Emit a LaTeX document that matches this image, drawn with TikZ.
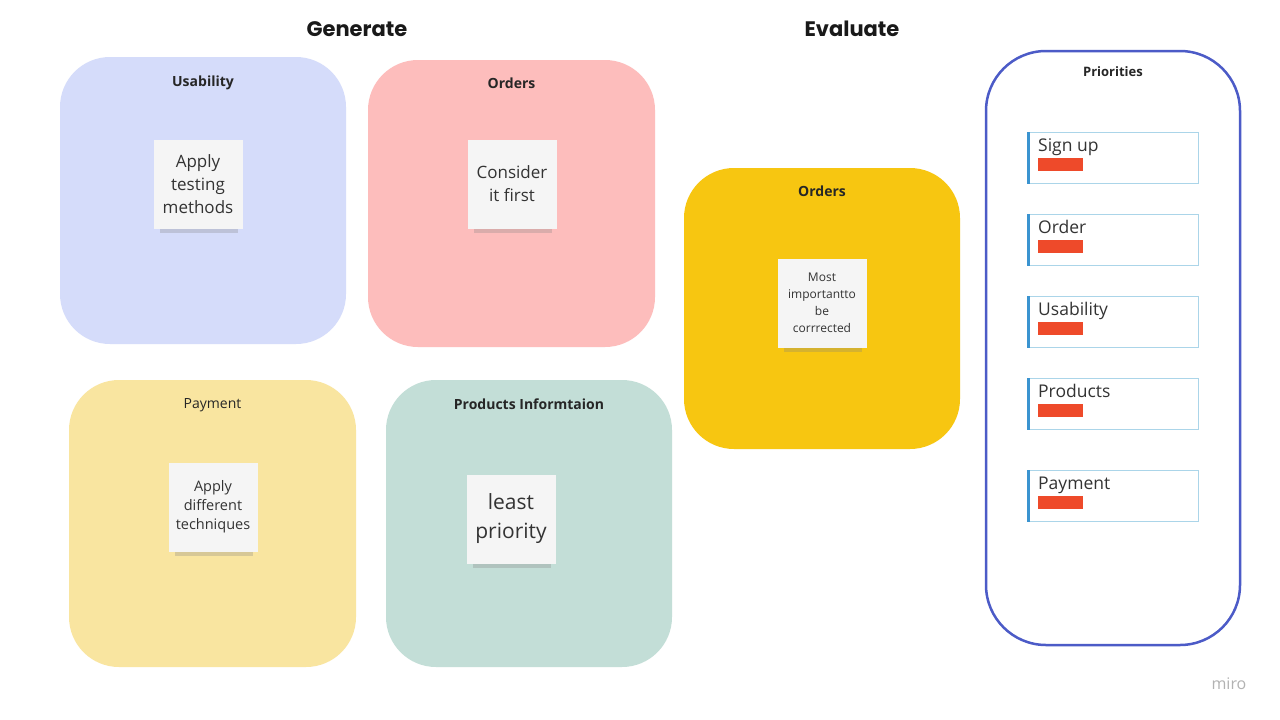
\documentclass[tikz,border=0pt]{standalone}
\usepackage{fontspec}
\setmainfont{Open Sans}
\newfontfamily\headfont{Poppins}
\usepackage{tikz}
\usetikzlibrary{positioning,shadows}
\definecolor{usabfill}{HTML}{D5DCFA}
\definecolor{ordfill}{HTML}{FDBDBC}
\definecolor{payfill}{HTML}{F9E5A0}
\definecolor{prodfill}{HTML}{C3DED7}
\definecolor{evalfill}{HTML}{F7C611}
\definecolor{prioline}{HTML}{4C5BC7}
\definecolor{cardline}{HTML}{ABD5E9}
\definecolor{cardstripe}{HTML}{3B94D0}
\definecolor{barred}{HTML}{EE4A2A}
\definecolor{notefill}{HTML}{F5F5F5}
\definecolor{inktext}{HTML}{333333}

\begin{document}
\begin{tikzpicture}[x=1pt,y=-1pt,
  board/.style={rounded corners=50pt,inner sep=0pt},
  boxtitle/.style={font=\fontsize{14}{16}\selectfont\bfseries,text=black!85,inner sep=0pt},
  sticky/.style={fill=notefill,minimum width=89pt,minimum height=89pt,inner sep=2pt,
    align=center,text=inktext,
    drop shadow={opacity=0.28,shadow xshift=1pt,shadow yshift=-11pt,shadow scale=0.88}},
  card/.style={draw=cardline,line width=0.8pt,fill=white,minimum width=170pt,minimum height=51pt,
    anchor=north west,inner sep=0pt},
  heading/.style={font=\headfont\fontsize{21}{24}\selectfont\bfseries,text=black!90}]
\useasboundingbox[fill=white] (0,0) rectangle (1280,720);

\node[heading] (gen) at (357,29) {Generate};
\node[heading] (eva) at (852,29) {Evaluate};

\node[board,fill=usabfill,minimum width=286pt,minimum height=287pt] (usab) at (203,200.5) {};
\node[board,fill=ordfill,minimum width=287pt,minimum height=287pt] (ord) at (511.5,203.5) {};
\node[board,fill=payfill,minimum width=287pt,minimum height=287pt] (pay) at (212.5,523.5) {};
\node[board,fill=prodfill,minimum width=286pt,minimum height=287pt] (prod) at (529,523.5) {};
\node[board,fill=evalfill,minimum width=276pt,minimum height=281pt] (ordeval) at (822,308.5) {};
\node[board,draw=prioline,line width=2.5pt,rounded corners=60pt,minimum width=254pt,minimum height=594pt] (prio) at (1113,348) {};

\node[boxtitle,below=19pt of usab.north] {Usability};
\node[boxtitle,below=18pt of ord.north] {Orders};
\node[boxtitle,font=\fontsize{14}{16}\selectfont,below=19pt of pay.north] {Payment};
\node[boxtitle,below=19pt of prod.north] {Products Informtaion};
\node[boxtitle,below=18pt of ordeval.north] {Orders};
\node[boxtitle,font=\fontsize{13}{15}\selectfont\bfseries,below=17pt of prio.north] {Priorities};

\node[sticky,font=\fontsize{17}{23}\selectfont] (n1) at (198,184) {Apply\\testing\\methods};
\node[sticky,font=\fontsize{17}{23}\selectfont] (n2) at (512,184) {Consider\\it first};
\node[sticky,font=\fontsize{14.5}{19}\selectfont] (n3) at (213,507) {Apply\\different\\techniques};
\node[sticky,font=\fontsize{21}{29}\selectfont] (n4) at (511,519) {least\\priority};
\node[sticky,font=\fontsize{12}{17}\selectfont] (n5) at (822,303) {Most\\importantto\\be\\corrrected};

\foreach \lbl/\yy [count=\i] in {Sign up/132,Order/214,Usability/296,Products/378,Payment/470}{
  \node[card] (c\i) at (1028,\yy) {};
  \draw[cardstripe,line width=3pt] (c\i.north west) -- (c\i.south west);
  \node[anchor=base west,inner sep=0pt,text=inktext,font=\fontsize{17.5}{20}\selectfont] (t\i) at (1038,{\yy+19}) {\lbl};
  \fill[barred] (1038,{\yy+26}) rectangle (1083,{\yy+39});
}

\node[text=black!30,font=\fontsize{16}{18}\selectfont] (miro) at (1229,684) {miro};
\end{tikzpicture}
\end{document}
